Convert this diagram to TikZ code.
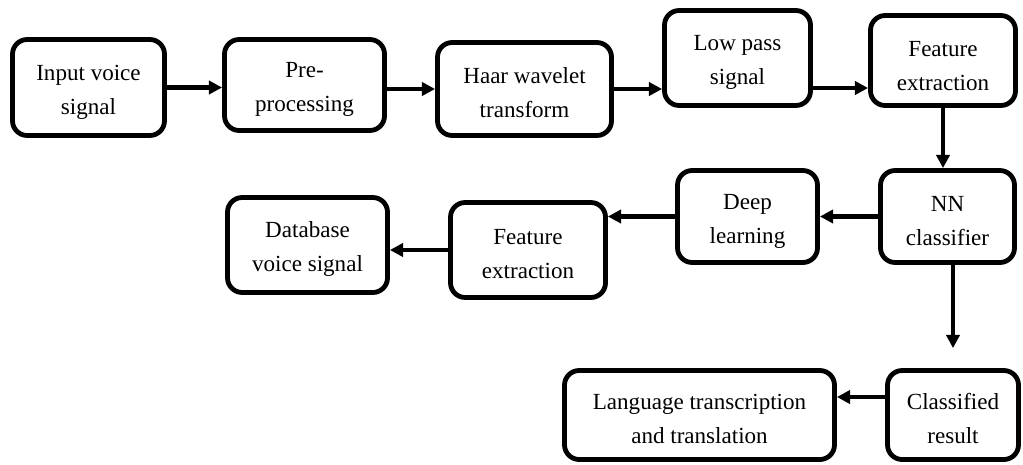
\documentclass[tikz,border=0pt]{standalone}
\usepackage{fontspec}
\setmainfont{Liberation Serif}
\usetikzlibrary{arrows.meta,calc}
\newcommand{\tdown}{\rule{0pt}{18pt}}
\begin{document}
\begin{tikzpicture}[x=0.75pt,y=-0.75pt,
  blk/.style={draw=black,line width=3.6pt,rounded corners=11pt,fill=white,
    align=center,inner sep=0pt,font=\fontsize{17.3pt}{25.5pt}\selectfont},
  arr/.style={line width=3.6pt,-{Triangle[length=10pt,width=10pt]}}]
\useasboundingbox (0,0) rectangle (1023,464);
% boxes: minimum size in pt = (outer px size - 5px) * 0.75
\node[blk,minimum width=114pt,minimum height=72pt] (in)   at (88.5,87.5) {\tdown Input voice\\signal};
\node[blk,minimum width=120pt,minimum height=68.25pt] (pre)  at (304.5,85)  {\tdown Pre-\\processing};
\node[blk,minimum width=130.5pt,minimum height=69.75pt] (haar) at (524.5,89)  {\tdown Haar wavelet\\transform};
\node[blk,minimum width=109.5pt,minimum height=71.25pt] (low)  at (737.5,58)  {\tdown Low pass\\signal};
\node[blk,minimum width=108.75pt,minimum height=67.5pt] (fea)  at (943,60.5)  {\rule{0pt}{20pt}Feature\\extraction};
\node[blk,minimum width=100.5pt,minimum height=69pt] (nn)   at (947.5,216.5) {\tdown NN\\classifier};
\node[blk,minimum width=105pt,minimum height=69pt] (deep) at (747.5,216.5) {\tdown Deep\\learning};
\node[blk,minimum width=116.25pt,minimum height=71.25pt] (feb)  at (528,250)   {\tdown Feature\\extraction};
\node[blk,minimum width=120pt,minimum height=71.25pt] (db)   at (307.5,245) {\tdown Database\\voice signal};
\node[blk,minimum width=98.25pt,minimum height=66.75pt] (cls)  at (953,415)   {\tdown Classified\\result};
\node[blk,minimum width=202.5pt,minimum height=66.75pt] (lang) at (699.5,415) {\tdown Language transcription\\and translation};
% connectors
\draw[arr] (in.east) -- (in.east -| pre.west);
\draw[arr] (haar.west -| pre.east) -- (haar.west);
\draw[arr] (haar.east) -- (haar.east -| low.west);
\coordinate (a45) at ($(low.east)+(0,30)$);
\draw[arr] (a45) -- (a45 -| fea.west);
\draw[arr] (fea.south) -- (fea.south |- nn.north);
\draw[arr] (nn.west) -- (deep.east);
\draw[arr] (deep.west) -- (deep.west -| feb.east);
\draw[arr] (feb.west) -- (feb.west -| db.east);
\coordinate (a610) at ($(cls.north)+(0,-20)$);
\draw[arr] (cls.north |- nn.south) -- (a610);
\coordinate (a1011) at ($(cls.west)+(0,-18)$);
\draw[arr] (a1011) -- (a1011 -| lang.east);
\end{tikzpicture}
\end{document}
